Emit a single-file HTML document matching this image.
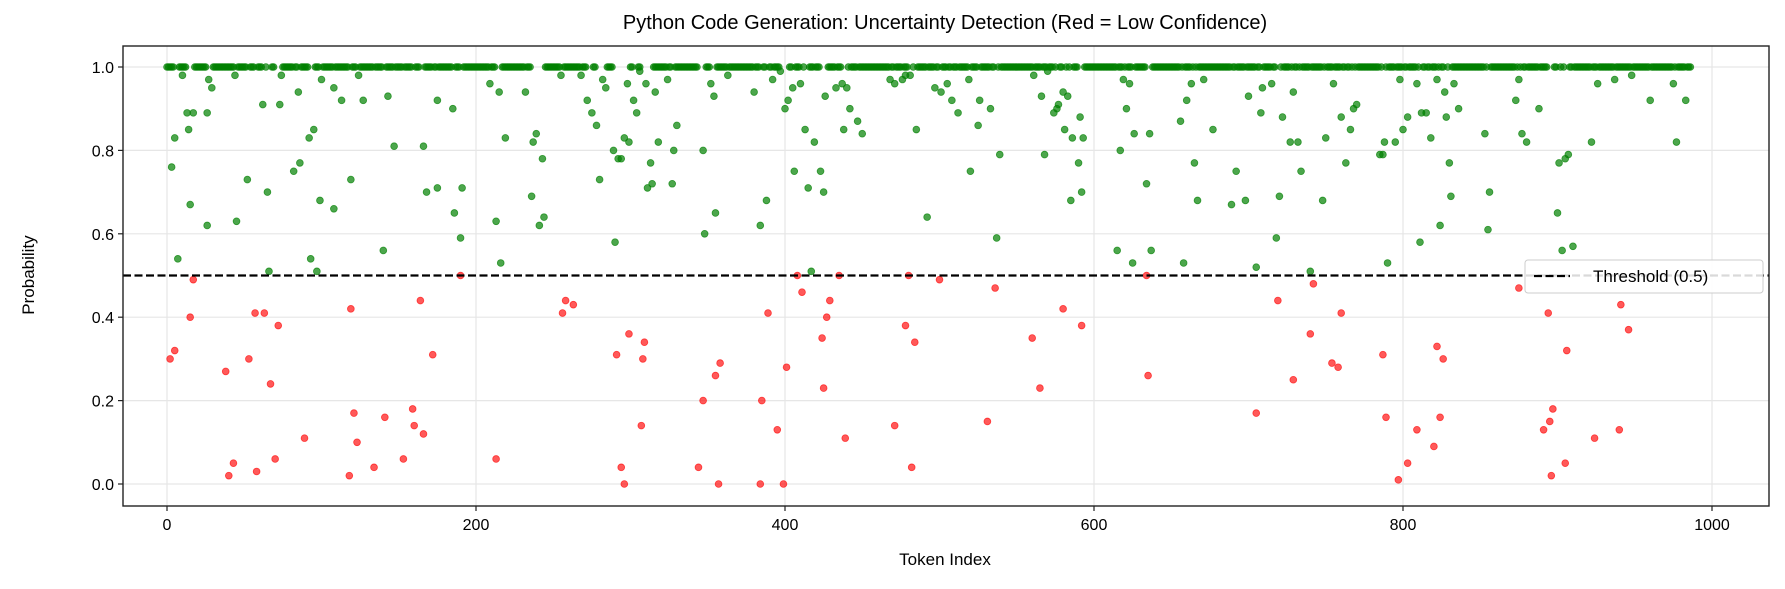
<!DOCTYPE html>
<html><head><meta charset="utf-8">
<style>
html,body{margin:0;padding:0;background:#fff;}
svg text{font-family:"Liberation Sans","DejaVu Sans",sans-serif;fill:#000;}
</style></head>
<body>
<svg id="chart" width="1785" height="584" xmlns="http://www.w3.org/2000/svg">
<rect width="1785" height="584" fill="#fff"/>
<text x="945" y="29" font-size="20" text-anchor="middle">Python Code Generation: Uncertainty Detection (Red = Low Confidence)</text>
<g id="grid"></g>
<g id="marks"></g>
<g id="axes"></g>
<text x="945" y="565" font-size="17" text-anchor="middle">Token Index</text>
<text x="0" y="0" font-size="17" text-anchor="middle" transform="translate(34,275) rotate(-90)">Probability</text>
<g>
<rect x="1525" y="260" width="238" height="33" rx="3" fill="#fff" fill-opacity="0.85" stroke="#ccc"/>
<line x1="1534" y1="276" x2="1570" y2="276" stroke="#000" stroke-width="2.2" stroke-dasharray="8,3.5"/>
<text x="1593" y="282" font-size="17">Threshold (0.5)</text>
</g>
</svg>
<script>
const xTicks=[0,200,400,600,800,1000];
const yTicks=[0.0,0.2,0.4,0.6,0.8,1.0];
const threshold=0.5;
const redPoints=[[2,0.30],[5,0.32],[15,0.40],[17,0.49],[38,0.27],[40,0.02],[43,0.05],[53,0.30],[57,0.41],[58,0.03],[63,0.41],[67,0.24],[70,0.06],[72,0.38],[89,0.11],[118,0.02],[119,0.42],[121,0.17],[123,0.10],[134,0.04],[141,0.16],[153,0.06],[159,0.18],[160,0.14],[164,0.44],[166,0.12],[172,0.31],[190,0.50],[213,0.06],[256,0.41],[258,0.44],[263,0.43],[291,0.31],[294,0.04],[296,0.0],[299,0.36],[307,0.14],[308,0.30],[309,0.34],[344,0.04],[347,0.20],[355,0.26],[357,0.0],[358,0.29],[384,0.0],[385,0.20],[389,0.41],[395,0.13],[399,0.0],[401,0.28],[408,0.50],[411,0.46],[424,0.35],[425,0.23],[427,0.40],[429,0.44],[435,0.50],[439,0.11],[471,0.14],[478,0.38],[480,0.50],[482,0.04],[484,0.34],[500,0.49],[531,0.15],[536,0.47],[560,0.35],[565,0.23],[580,0.42],[592,0.38],[634,0.50],[635,0.26],[705,0.17],[719,0.44],[729,0.25],[740,0.36],[742,0.48],[754,0.29],[758,0.28],[760,0.41],[787,0.31],[789,0.16],[797,0.01],[803,0.05],[809,0.13],[820,0.09],[822,0.33],[824,0.16],[826,0.30],[875,0.47],[891,0.13],[894,0.41],[895,0.15],[896,0.02],[897,0.18],[905,0.05],[906,0.32],[924,0.11],[940,0.13],[941,0.43],[946,0.37]];
const greenPoints=[[3,0.76],[5,0.83],[7,0.54],[10,0.98],[13,0.89],[14,0.85],[15,0.67],[17,0.89],[26,0.62],[26,0.89],[27,0.97],[29,0.95],[44,0.98],[45,0.63],[52,0.73],[62,0.91],[65,0.70],[66,0.51],[73,0.91],[74,0.98],[82,0.75],[85,0.94],[86,0.77],[92,0.83],[93,0.54],[95,0.85],[97,0.51],[99,0.68],[100,0.97],[108,0.66],[108,0.95],[113,0.92],[119,0.73],[124,0.98],[127,0.92],[140,0.56],[143,0.93],[147,0.81],[166,0.81],[168,0.70],[175,0.71],[175,0.92],[185,0.90],[186,0.65],[190,0.59],[191,0.71],[209,0.96],[213,0.63],[215,0.94],[216,0.53],[219,0.83],[232,0.94],[236,0.69],[237,0.82],[239,0.84],[241,0.62],[243,0.78],[244,0.64],[255,0.98],[268,0.98],[272,0.92],[275,0.89],[278,0.86],[280,0.73],[282,0.97],[284,0.95],[289,0.80],[290,0.58],[292,0.78],[294,0.78],[296,0.83],[298,0.96],[299,0.82],[302,0.92],[304,0.89],[306,0.99],[310,0.96],[311,0.71],[313,0.77],[314,0.72],[316,0.94],[318,0.82],[324,0.97],[327,0.72],[328,0.80],[330,0.86],[347,0.80],[348,0.60],[352,0.96],[354,0.93],[355,0.65],[363,0.98],[380,0.94],[384,0.62],[388,0.68],[392,0.97],[397,0.99],[400,0.90],[402,0.92],[405,0.95],[406,0.75],[410,0.96],[413,0.85],[415,0.71],[417,0.51],[419,0.82],[423,0.75],[425,0.70],[426,0.93],[433,0.95],[437,0.96],[438,0.85],[440,0.95],[442,0.90],[447,0.87],[450,0.84],[468,0.97],[471,0.96],[476,0.97],[478,0.98],[481,0.98],[485,0.85],[492,0.64],[497,0.95],[501,0.94],[505,0.96],[508,0.92],[512,0.89],[519,0.97],[520,0.75],[525,0.86],[526,0.92],[533,0.90],[537,0.59],[539,0.79],[561,0.98],[566,0.93],[568,0.79],[570,0.99],[574,0.89],[576,0.90],[577,0.91],[580,0.94],[581,0.85],[583,0.93],[585,0.68],[586,0.83],[590,0.77],[591,0.88],[592,0.70],[593,0.83],[615,0.56],[617,0.80],[619,0.97],[621,0.90],[623,0.96],[625,0.53],[626,0.84],[634,0.72],[636,0.84],[637,0.56],[656,0.87],[658,0.53],[660,0.92],[663,0.96],[665,0.77],[667,0.68],[671,0.97],[677,0.85],[689,0.67],[692,0.75],[698,0.68],[700,0.93],[705,0.52],[708,0.89],[709,0.95],[715,0.96],[718,0.59],[720,0.69],[722,0.88],[727,0.82],[729,0.94],[732,0.82],[734,0.75],[740,0.51],[748,0.68],[750,0.83],[755,0.96],[760,0.88],[763,0.77],[766,0.85],[768,0.90],[770,0.91],[785,0.79],[787,0.79],[788,0.82],[790,0.53],[795,0.82],[798,0.97],[800,0.85],[803,0.88],[809,0.96],[811,0.58],[812,0.89],[815,0.89],[818,0.83],[822,0.97],[824,0.62],[827,0.94],[828,0.88],[830,0.77],[831,0.69],[833,0.96],[836,0.90],[853,0.84],[855,0.61],[856,0.70],[873,0.92],[875,0.97],[877,0.84],[880,0.82],[888,0.90],[900,0.65],[901,0.77],[903,0.56],[905,0.78],[907,0.79],[910,0.57],[922,0.82],[926,0.96],[937,0.97],[948,0.98],[960,0.92],[975,0.96],[977,0.82],[983,0.92]];
const highRuns=[[0,4],[8,12],[18,25],[30,43],[46,51],[54,56],[59,61],[64,64],[68,69],[75,81],[83,84],[87,91],[96,98],[101,107],[109,117],[120,122],[125,133],[135,139],[142,146],[148,152],[154,158],[161,163],[167,171],[173,174],[176,184],[187,189],[192,208],[210,212],[217,231],[233,235],[245,254],[257,267],[269,271],[276,277],[285,288],[300,301],[305,306],[315,323],[325,326],[329,343],[349,351],[356,362],[364,379],[381,383],[386,387],[390,391],[393,396],[403,404],[407,409],[412,412],[416,418],[420,422],[428,432],[434,436],[441,441],[443,446],[448,467],[469,470],[472,475],[477,479],[483,483],[486,491],[493,496],[498,499],[502,504],[506,507],[509,511],[513,518],[521,524],[527,532],[534,535],[538,538],[540,560],[562,565],[567,569],[571,573],[575,575],[578,579],[582,582],[584,584],[587,589],[594,614],[616,618],[620,620],[622,624],[627,633],[638,655],[657,657],[659,662],[664,664],[666,666],[668,688],[690,691],[693,697],[699,704],[706,707],[710,714],[716,717],[721,721],[723,726],[728,728],[730,731],[733,733],[735,739],[741,747],[749,749],[751,754],[756,759],[761,762],[764,765],[767,767],[769,769],[771,784],[786,786],[789,789],[791,794],[796,799],[801,802],[804,808],[810,810],[813,814],[816,817],[819,821],[823,823],[825,826],[829,829],[832,852],[854,854],[857,872],[874,874],[876,876],[878,879],[881,887],[889,893],[898,899],[902,902],[904,904],[908,909],[911,921],[923,925],[927,936],[938,947],[949,959],[961,974],[976,976],[978,982],[984,986]];
const highValue=1.0;

const NS='http://www.w3.org/2000/svg';
const L=123,R=1769,T=46,B=506;
function sx(v){return 167+v*(1712-167)/1000;}
function sy(v){return 484+v*(67-484);}
function mk(tag,attrs,parent){const e=document.createElementNS(NS,tag);for(const k in attrs)e.setAttribute(k,attrs[k]);parent.appendChild(e);return e;}
const grid=document.getElementById('grid'),marks=document.getElementById('marks'),axes=document.getElementById('axes');
xTicks.forEach(t=>{
  const g=mk('line',{x1:sx(t),x2:sx(t),y1:T,y2:B,stroke:'#e6e6e6','stroke-width':1.2},grid);
  
  
  const tk=mk('line',{x1:sx(t),x2:sx(t),y1:B,y2:B+5,stroke:'#222','stroke-width':1.2},axes);
  
  
  const tx=mk('text',{x:sx(t),y:B+24,'font-size':16,'text-anchor':'middle'},axes);
  tx.textContent=String(t);
  
  
});
yTicks.forEach(t=>{
  const g=mk('line',{x1:L,x2:R,y1:sy(t),y2:sy(t),stroke:'#e6e6e6','stroke-width':1.2},grid);
  
  
  const tk=mk('line',{x1:L-5,x2:L,y1:sy(t),y2:sy(t),stroke:'#222','stroke-width':1.2},axes);
  
  
  const tx=mk('text',{x:L-9,y:sy(t)+6,'font-size':16,'text-anchor':'end'},axes);
  tx.textContent=t.toFixed(1);
  
  
});
function dot(x,y,color,op,name){
  const c=mk('circle',{cx:sx(x),cy:sy(y),r:3.4,fill:color,'fill-opacity':op,stroke:color,'stroke-opacity':op,'stroke-width':0.8},marks);
  
  
}
highRuns.forEach(r=>{for(let i=r[0];i<=r[1];i++)dot(i,highValue,'#008000',0.7,'high-confidence-point');});
greenPoints.forEach(p=>dot(p[0],p[1],'#008000',0.7,'high-confidence-point'));
redPoints.forEach(p=>dot(p[0],p[1],'#ff0000',0.65,'low-confidence-point'));
const th=mk('line',{x1:L,x2:R,y1:sy(threshold),y2:sy(threshold),stroke:'#000','stroke-width':2.2,'stroke-dasharray':'8,3.5'},marks);


const frame=mk('rect',{x:L,y:T,width:R-L,height:B-T,fill:'none',stroke:'#222','stroke-width':1.4},axes);


</script>
</body></html>
